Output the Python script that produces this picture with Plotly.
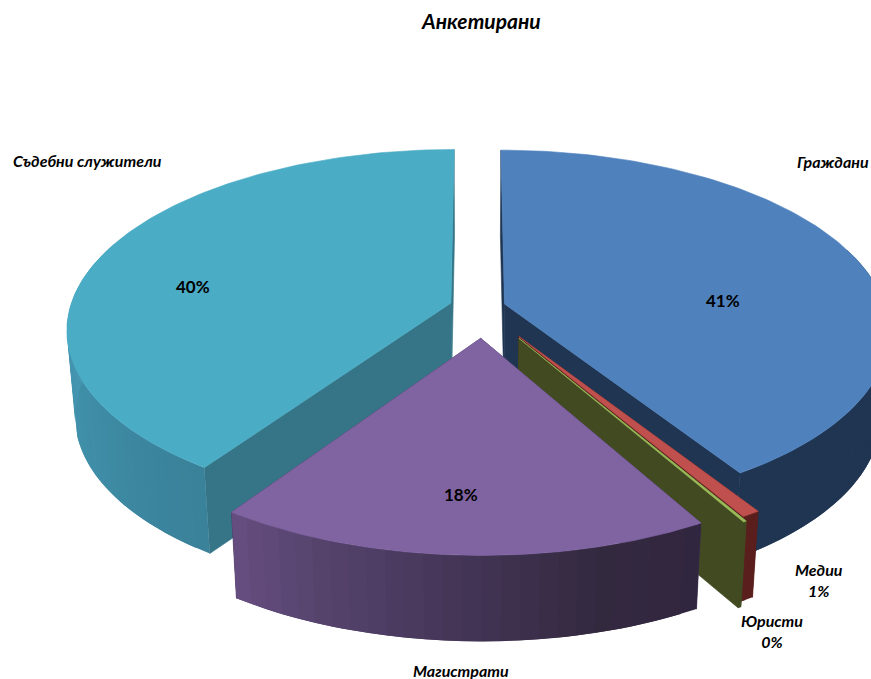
import numpy as np
import plotly.graph_objects as go

# ---- data ----
categories = ["Граждани", "Медии", "Юристи", "Магистрати", "Съдебни служители"]
values = [41.0, 0.68, 0.12, 17.75, 40.45]

# ---- style ----
top_colors = ["#4f81bd", "#c0504d", "#9bbb59", "#8064a2", "#4bacc6"]
face_colors = ["#1f3552", "#5a1f1d", "#414a21", "#3f3054", "#357587"]
wall_stops = [
    ([0, 360], ["#1f3552", "#1f3552"]),
    ([0, 360], ["#5a1f1d", "#5a1f1d"]),
    ([0, 360], ["#414a21", "#414a21"]),
    ([150, 165, 185, 200, 215], ["#31263f", "#33293f", "#46375a", "#54426b", "#674f82"]),
    ([214, 245, 275, 360], ["#3a8099", "#3f8ea8", "#4797b2", "#4797b2"]),
]
# explosion of each slice on the pie's plane
explode_x = [0.075, 0.11, 0.11, 0.012, -0.066]
explode_y = [0.04, -0.14, -0.15, -0.15, 0.045]
radius = [1.0, 0.98, 0.99, 0.995, 1.0]

# projection of the pie plane onto the page
CX, CY, A, B, K = 476.0, 311.0, 382.0, 178.0, 0.145
DEPTH_SCALE, DEPTH = 0.98, 86.0


def hex_rgb(h):
    return np.array([int(h[i:i + 2], 16) for i in (1, 3, 5)], float)


def shade(angle, stops):
    pos, cols = stops
    rgb = [np.interp(angle, pos, [hex_rgb(c)[i] for c in cols]) for i in range(3)]
    return "rgb({:.0f},{:.0f},{:.0f})".format(*rgb)


def project(x, y, bottom=False):
    w = 1 + K * y
    px = A * x / w
    py = -B * y / w
    if bottom:
        return CX + DEPTH_SCALE * px, CY + py + DEPTH
    return CX + px, CY + py


def rim(deg, i, bottom=False):
    t = np.radians(deg)
    return project(explode_x[i] + radius[i] * np.sin(t),
                   explode_y[i] + radius[i] * np.cos(t), bottom)


def poly(xs, ys, color, edge=0.6):
    xs = list(xs) + [xs[0]]
    ys = list(ys) + [ys[0]]
    return go.Scatter(x=xs, y=ys, mode="lines", fill="toself", fillcolor=color,
                      line=dict(color=color, width=edge), hoverinfo="skip",
                      showlegend=False)


shares = np.array(values) / sum(values) * 360
ends = np.cumsum(shares)
starts = ends - shares


def slice_traces(i):
    a0, a1, ex, ey = starts[i], ends[i], explode_x[i], explode_y[i]
    out = []
    ax, ay = project(ex, ey)
    bx, by = project(ex, ey, True)
    # radial faces
    for deg in (a0, a1):
        tx, ty = rim(deg, i)
        ux, uy = rim(deg, i, True)
        out.append(poly([ax, tx, ux, bx], [ay, ty, uy, by], face_colors[i]))
    # outer wall in small shaded strips: each runs under the next, so no seam shows
    n = max(2, int(np.ceil((a1 - a0) / 2.5)))
    grid = np.linspace(a0, a1, n + 1)
    for j in range(n):
        d0, d1 = grid[j], grid[min(j + 2, n)]
        if np.cos(np.radians(d0)) > 0.35:
            continue
        sub = np.linspace(d0, d1, 5)
        tops = [rim(d, i) for d in sub]
        bots = [rim(d, i, True) for d in sub[::-1]]
        out.append(poly([p[0] for p in tops + bots], [p[1] for p in tops + bots],
                        shade((grid[j] + grid[j + 1]) / 2, wall_stops[i]), edge=0))
    # top surface
    arc = np.linspace(a0, a1, 121)
    pts = [rim(d, i) for d in arc]
    out.append(poly([ax] + [p[0] for p in pts], [ay] + [p[1] for p in pts], top_colors[i]))
    return out


fig = go.Figure()
for idx in [0, 4, 1, 2, 3]:
    fig.add_traces(slice_traces(idx))

FONT = "Lato, 'Open Sans', sans-serif"
percent = [f"{round(v)}%" for v in values]
label_pos = [(833, 161), (819, 580), (772, 631), (461, 670), (87, 160)]
pct_pos = [(723, 300), None, None, (461, 494), (193, 286)]
anns = [dict(x=481, y=20, text="Анкетирани",
             font=dict(family=FONT, size=21, color="#000", weight="bold", style="italic"))]
for i, name in enumerate(categories):
    txt = name
    if pct_pos[i] is None:
        txt = f"{name}<br>{percent[i]}"
    else:
        anns.append(dict(x=pct_pos[i][0], y=pct_pos[i][1], text=percent[i],
                         font=dict(family=FONT, size=17, color="#000", weight="bold")))
    anns.append(dict(x=label_pos[i][0], y=label_pos[i][1], text=txt,
                     font=dict(family=FONT, size=16, color="#000", weight="bold", style="italic")))
for a in anns:
    a.update(xref="x", yref="y", showarrow=False, xanchor="center", yanchor="middle")

fig.update_layout(
    width=871, height=679, margin=dict(l=0, r=0, t=0, b=0),
    paper_bgcolor="white", plot_bgcolor="white", showlegend=False,
    xaxis=dict(range=[0, 871], visible=False, fixedrange=True),
    yaxis=dict(range=[679, 0], visible=False, fixedrange=True),
    annotations=anns,
)
fig.write_html("out.html", post_script="document.body.style.margin='0';",
               config={"displayModeBar": False})
